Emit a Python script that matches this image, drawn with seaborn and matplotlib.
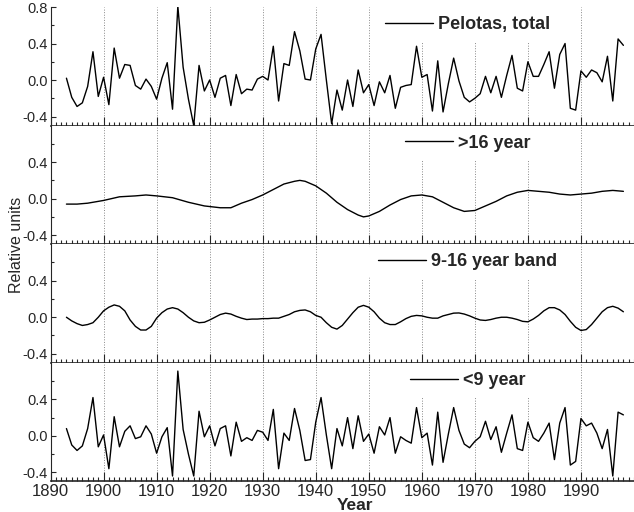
import numpy as np
import pandas as pd
import matplotlib
matplotlib.use("Agg")
import matplotlib.pyplot as plt
from matplotlib.ticker import MultipleLocator, FixedLocator
import seaborn as sns

# yearly series 1893-1998
years = list(range(1893, 1999))

total = [
    0.02, -0.19, -0.29, -0.25, -0.07, 0.31, -0.18, 0.03, -0.27, 0.35,
    0.02, 0.17, 0.16, -0.06, -0.10, 0.01, -0.07, -0.21, 0.02, 0.19,
    -0.32, 0.81, 0.14, -0.21, -0.50, 0.16, -0.12, 0.00, -0.19, 0.02,
    0.05, -0.28, 0.06, -0.15, -0.10, -0.11, 0.01, 0.04, 0.00, 0.37,
    -0.23, 0.18, 0.16, 0.53, 0.32, 0.01, 0.00, 0.34, 0.50, 0.00,
    -0.48, -0.11, -0.33, 0.00, -0.29, 0.11, -0.14, -0.05, -0.28, -0.02,
    -0.14, 0.05, -0.31, -0.08, -0.06, -0.05, 0.37, 0.03, 0.06, -0.34,
    0.21, -0.35, -0.04, 0.24, -0.01, -0.19, -0.24, -0.20, -0.15, 0.04,
    -0.14, 0.04, -0.19, 0.05, 0.27, -0.09, -0.12, 0.20, 0.04, 0.04,
    0.17, 0.31, -0.09, 0.28, 0.40, -0.31, -0.33, 0.10, 0.03, 0.11,
    0.08, -0.02, 0.26, -0.23, 0.45, 0.38,
]

short = [
    0.08, -0.10, -0.16, -0.11, 0.08, 0.42, -0.12, 0.01, -0.36, 0.21,
    -0.12, 0.05, 0.11, -0.03, -0.01, 0.11, 0.02, -0.19, -0.01, 0.09,
    -0.44, 0.71, 0.07, -0.20, -0.44, 0.27, -0.01, 0.11, -0.11, 0.08,
    0.11, -0.22, 0.15, -0.06, -0.02, -0.05, 0.06, 0.04, -0.05, 0.29,
    -0.36, 0.03, -0.05, 0.30, 0.06, -0.27, -0.26, 0.15, 0.42, 0.01,
    -0.36, 0.08, -0.11, 0.20, -0.14, 0.22, -0.06, 0.02, -0.19, 0.10,
    0.01, 0.20, -0.19, -0.01, -0.05, -0.08, 0.31, -0.02, 0.03, -0.32,
    0.26, -0.29, 0.02, 0.31, 0.06, -0.09, -0.13, -0.06, -0.01, 0.16,
    -0.04, 0.10, -0.18, 0.03, 0.23, -0.14, -0.16, 0.15, -0.02, -0.06,
    0.03, 0.14, -0.26, 0.14, 0.31, -0.32, -0.28, 0.19, 0.11, 0.14,
    0.03, -0.14, 0.07, -0.44, 0.26, 0.23,
]

band = [
    0.0, -0.04, -0.07, -0.09, -0.08, -0.06, 0.0, 0.07, 0.11, 0.135,
    0.12, 0.07, -0.03, -0.10, -0.14, -0.14, -0.10, -0.01, 0.05, 0.09,
    0.105, 0.09, 0.05, 0.0, -0.04, -0.06, -0.055, -0.03, 0.0, 0.03,
    0.045, 0.035, 0.01, -0.01, -0.025, -0.02, -0.02, -0.015, -0.015, -0.01,
    -0.01, 0.01, 0.03, 0.06, 0.075, 0.08, 0.06, 0.02, 0.0, -0.06,
    -0.11, -0.13, -0.09, -0.02, 0.05, 0.11, 0.13, 0.11, 0.06, -0.01,
    -0.06, -0.08, -0.08, -0.05, -0.015, 0.01, 0.02, 0.015, 0.0, -0.01,
    -0.01, 0.015, 0.03, 0.045, 0.047, 0.035, 0.015, -0.01, -0.03, -0.035,
    -0.025, -0.01, 0.0, 0.0, -0.01, -0.025, -0.045, -0.05, -0.02, 0.02,
    0.07, 0.105, 0.105, 0.08, 0.03, -0.045, -0.11, -0.145, -0.135, -0.08,
    -0.01, 0.06, 0.105, 0.12, 0.10, 0.06,
]

# slow component, read at the years below
long_years = [1893, 1895, 1897, 1900, 1903, 1906, 1908, 1910, 1913, 1916,
              1919, 1922, 1924, 1926, 1928, 1930, 1932, 1934, 1936, 1937,
              1938, 1940, 1942, 1944, 1946, 1948, 1949, 1950, 1952, 1954,
              1956, 1958, 1960, 1962, 1964, 1966, 1968, 1970, 1972, 1974,
              1976, 1978, 1980, 1982, 1984, 1986, 1988, 1990, 1992, 1994,
              1996, 1998]
long_vals = [-0.06, -0.06, -0.05, -0.02, 0.02, 0.03, 0.04, 0.03, 0.01, -0.04,
             -0.08, -0.10, -0.10, -0.05, -0.01, 0.04, 0.10, 0.16, 0.19, 0.20,
             0.19, 0.14, 0.06, -0.04, -0.12, -0.18, -0.20, -0.19, -0.14, -0.07,
             -0.01, 0.03, 0.04, 0.02, -0.04, -0.10, -0.14, -0.13, -0.08, -0.03,
             0.03, 0.07, 0.09, 0.08, 0.07, 0.05, 0.04, 0.05, 0.06, 0.08,
             0.09, 0.08]

labels = ["Pelotas, total", ">16 year", "9-16 year band", "<9 year"]
decades = list(range(1890, 2000, 10))

sns.set_style("ticks")
plt.rcParams["font.family"] = ["Liberation Sans", "DejaVu Sans"]

panels = [
    pd.DataFrame({"year": years, "value": total}),
    pd.DataFrame({"year": long_years, "value": long_vals}),
    pd.DataFrame({"year": years, "value": band}),
    pd.DataFrame({"year": years, "value": short}),
]

fig, axes = plt.subplots(4, 1, figsize=(6.34, 5.12), dpi=100, sharex=True)
fig.subplots_adjust(left=0.0797, right=1.0, top=0.9863, bottom=0.0596, hspace=0)

for i, (ax, df, lab) in enumerate(zip(axes, panels, labels)):
    sns.lineplot(data=df, x="year", y="value", ax=ax, color="black",
                 linewidth=1.0, label=lab, solid_joinstyle="round")
    ax.set_xlim(1890, 2000)
    ax.set_ylim(-0.5, 0.8)
    ax.xaxis.set_major_locator(FixedLocator(decades))
    ax.xaxis.set_minor_locator(MultipleLocator(1))
    if i == 0:
        ax.yaxis.set_major_locator(FixedLocator([-0.4, 0.0, 0.4, 0.8]))
    else:
        ax.yaxis.set_major_locator(FixedLocator([-0.4, 0.0, 0.4]))
    ax.yaxis.set_minor_locator(FixedLocator([-0.2, 0.2, 0.6]))
    ax.yaxis.set_major_formatter(plt.FuncFormatter(lambda v, p: f"{v:.1f}"))
    ax.grid(axis="x", which="major", linestyle=":", color="#888888", linewidth=0.7)
    ax.set_xlabel("")
    ax.set_ylabel("")
    ax.spines["top"].set_visible(False)
    ax.spines["right"].set_visible(False)
    ax.spines["bottom"].set_linewidth(1.2)
    ax.spines["left"].set_linewidth(0.8)
    ax.tick_params(axis="x", which="major", direction="in", length=6.5, width=0.8,
                   pad=2, labelbottom=(i == 3))
    ax.tick_params(axis="x", which="minor", direction="in", length=3, width=0.8)
    ax.tick_params(axis="y", which="major", direction="in", length=3.5, width=0.8,
                   pad=2, labelsize=10.5)
    ax.tick_params(axis="y", which="minor", direction="in", length=2, width=0.8)
    ax.legend(loc="upper center", bbox_to_anchor=(0.715, 1.0), frameon=True,
              facecolor="white", edgecolor="none", framealpha=1,
              prop=dict(weight="bold", size=13), handlelength=2.65,
              handletextpad=0.3, borderpad=0.5, borderaxespad=0)

for t in axes[3].get_xticklabels():
    t.set_family(["Liberation Sans Narrow", "Liberation Sans"])
    t.set_fontsize(12)

fig.text(17 / 634, 1 - 245 / 512, "Relative units", rotation=90,
         ha="center", va="center", fontsize=11.5)
fig.text(355 / 634, 1 - 505 / 512, "Year", ha="center", va="center",
         fontsize=12.5, fontweight="bold")

fig.savefig("out.png", dpi=100)
